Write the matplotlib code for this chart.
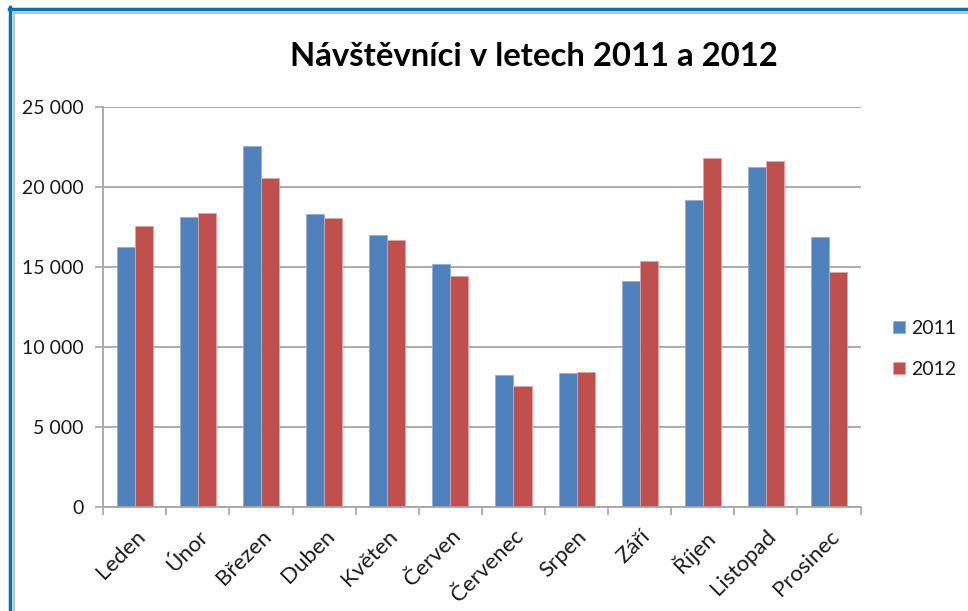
import numpy as np
import matplotlib
matplotlib.use("Agg")
import matplotlib.pyplot as plt
from matplotlib.lines import Line2D
from matplotlib.ticker import FuncFormatter, MultipleLocator

# --- data -----------------------------------------------------------------
months = ["Leden", "Únor", "Březen", "Duben", "Květen", "Červen",
          "Červenec", "Srpen", "Září", "Říjen", "Listopad", "Prosinec"]
visitors_2011 = [16200, 18100, 22550, 18270, 16960, 15170,
                 8210, 8340, 14100, 19150, 21210, 16840]
visitors_2012 = [17560, 18360, 20540, 18020, 16650, 14440,
                 7520, 8400, 15370, 21810, 21630, 14650]
series_names = ["2011", "2012"]
title = "Návštěvníci v letech 2011 a 2012"

# --- style ----------------------------------------------------------------
plt.rcParams['font.family'] = ['Lato', 'DejaVu Sans']
c_blue = '#4F81BD'
c_red = '#C0504D'
grid_c = '#A6A6A6'
txt_c = '#1a1a1a'

fig = plt.figure(figsize=(9.68, 6.11), dpi=100)
ax = fig.add_axes([0.1067, 0.1707, 0.7823, 0.6547])

x = np.arange(len(months))
w = 1 / 3.5
ax.bar(x - w / 2, visitors_2011, w, color=c_blue, edgecolor='#8FAEDA',
       linewidth=0.6, zorder=3, label=series_names[0])
ax.bar(x + w / 2, visitors_2012, w, color=c_red, edgecolor='#E3A3A1',
       linewidth=0.6, zorder=3, label=series_names[1])

ax.set_xlim(-0.5, len(months) - 0.5)
ax.set_ylim(0, 25000)
ax.yaxis.set_major_locator(MultipleLocator(5000))
ax.yaxis.set_major_formatter(FuncFormatter(lambda v, p: f"{int(v):,}".replace(",", " ")))
ax.grid(axis='y', color=grid_c, linewidth=1.3, zorder=0)

# category labels at centres, tick marks at the boundaries
ax.set_xticks(x)
ax.set_xticklabels(months, rotation=45, ha='right', rotation_mode='anchor')
ax.set_xticks(np.arange(-0.5, len(months)), minor=True)
ax.tick_params(axis='x', which='major', length=0, pad=14, labelsize=16, labelcolor=txt_c)
ax.tick_params(axis='x', which='minor', length=6, width=1.2, color=grid_c)
ax.tick_params(axis='y', length=6, width=1.2, color=grid_c, pad=8,
               labelsize=14, labelcolor=txt_c)

for side in ('top', 'right'):
    ax.spines[side].set_visible(False)
for side in ('left', 'bottom'):
    ax.spines[side].set_color(grid_c)
    ax.spines[side].set_linewidth(1.3)
    ax.spines[side].set_zorder(4)

fig.text(0.552, 0.908, title, ha='center', va='center', fontsize=23.7,
         fontweight='bold', color='black')

leg = ax.legend(loc='center left', bbox_to_anchor=(1.02, 0.395), frameon=False,
                fontsize=14, handlelength=0.6, handleheight=0.6, handletextpad=0.3,
                labelspacing=1.25, labelcolor=txt_c)

# window-like frame at top/left
fig.add_artist(Line2D([0.0108, 0.0108], [0, 0.9885], color='#0070C0', linewidth=2.5))
fig.add_artist(Line2D([0.0095, 1.0], [0.9845, 0.9845], color='#0070C0', linewidth=2.5))
fig.add_artist(Line2D([0.0145, 0.0145], [0, 0.979], color='#B8B8B8', linewidth=1.2))
fig.add_artist(Line2D([0.0145, 1.0], [0.979, 0.979], color='#B8B8B8', linewidth=1.2))

fig.savefig("out.png", dpi=100)
